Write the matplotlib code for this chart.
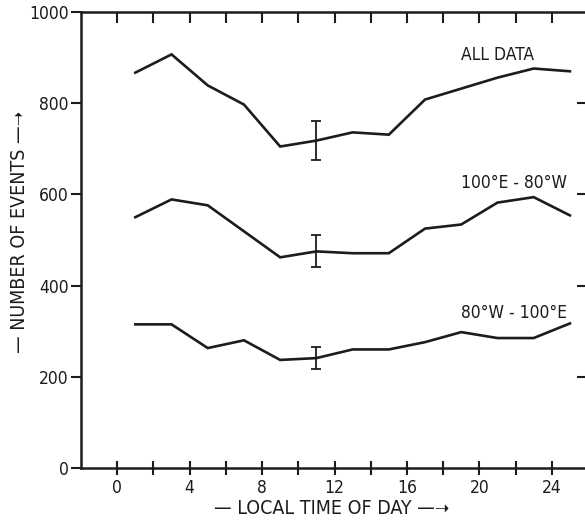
import matplotlib
matplotlib.use("Agg")
import matplotlib.pyplot as plt
from matplotlib import font_manager

hours = [1, 3, 5, 7, 9, 11, 13, 15, 17, 19, 21, 23, 25]
all_data = [867, 907, 839, 797, 705, 718, 736, 731, 808, 832, 856, 876, 870]
e100_80w = [550, 589, 576, 519, 462, 475, 471, 471, 525, 534, 582, 594, 554]
w80_100e = [315, 315, 263, 280, 237, 241, 260, 260, 276, 298, 285, 285, 317]

err_hour = 11
err_all = (718, 43)
err_100e = (475, 35)
err_80w = (241, 24)

series_labels = ["ALL DATA", "100°E - 80°W", "80°W - 100°E"]
label_pos = [(19.0, 905), (19.0, 625), (19.0, 340)]

xticks_major = [0, 4, 8, 12, 16, 20, 24]
xtick_labels = ["0", "4", "8", "12", "16", "20", "24"]
yticks = [0, 200, 400, 600, 800, 1000]

cond = [f for f in font_manager.fontManager.ttflist if 'Condensed' in f.fname]
stretch = 'condensed' if any('DejaVuSansCondensed' in f.fname for f in cond) else 'normal'
plt.rcParams['font.family'] = ['DejaVu Sans']
plt.rcParams['font.stretch'] = stretch

fig = plt.figure(figsize=(5.85, 5.22), dpi=100)
W, H = 585, 522
left_px, right_px, top_px, bot_px = 81, 588, 12, 468
ax = fig.add_axes([left_px / W, (H - bot_px) / H, (right_px - left_px) / W, (bot_px - top_px) / H])

col = "#1c1c1c"
lw = 1.9
for ys in (all_data, e100_80w, w80_100e):
    ax.plot(hours, ys, color=col, lw=lw, solid_joinstyle='miter')
for (v, e) in (err_all, err_100e, err_80w):
    ax.errorbar([err_hour], [v], yerr=[e], fmt='none', ecolor=col, elinewidth=1.3, capsize=3.5, capthick=1.3)

for lab, (x, y) in zip(series_labels, label_pos):
    ax.text(x, y, lab, fontsize=12.5, color=col, ha='left', va='center')

ax.set_xlim(-2, 26)
ax.set_ylim(0, 1000)
ax.set_xticks(xticks_major)
ax.set_xticklabels(xtick_labels, fontsize=12.5, color=col)
ax.set_xticks([2, 6, 10, 14, 18, 22], minor=True)
ax.set_yticks(yticks)
ax.set_yticklabels([str(v) for v in yticks], fontsize=12.5, color=col)

for s in ax.spines.values():
    s.set_linewidth(1.8)
    s.set_color(col)

ax.tick_params(axis='x', which='both', direction='inout', length=10, width=1.5, top=False, colors=col, pad=3)
ax.tick_params(axis='y', which='both', direction='out', length=7, width=1.5, right=False, colors=col, pad=2)

secx = ax.secondary_xaxis('top')
secx.set_xticks([0, 2, 4, 6, 8, 10, 12, 14, 16, 18, 20, 22, 24])
secx.tick_params(direction='in', length=8, width=1.5, labeltop=False, colors=col)
secx.spines['top'].set_visible(False)

secy = ax.secondary_yaxis('right')
secy.set_yticks([200, 400, 600, 800])
secy.tick_params(direction='in', length=8, width=1.5, labelright=False, colors=col)
secy.spines['right'].set_visible(False)

ax.set_xlabel("— LOCAL TIME OF DAY —➝", fontsize=14, color=col)
ax.set_ylabel("— NUMBER OF EVENTS —➝", fontsize=14, color=col)
ax.xaxis.set_label_coords((332 - left_px) / (right_px - left_px), (bot_px - 508) / (bot_px - top_px))
ax.yaxis.set_label_coords((20 - left_px) / (right_px - left_px), (bot_px - 232) / (bot_px - top_px))
ax.xaxis.label.set_va('center')
ax.yaxis.label.set_va('center')

fig.savefig("out.png", dpi=100)
